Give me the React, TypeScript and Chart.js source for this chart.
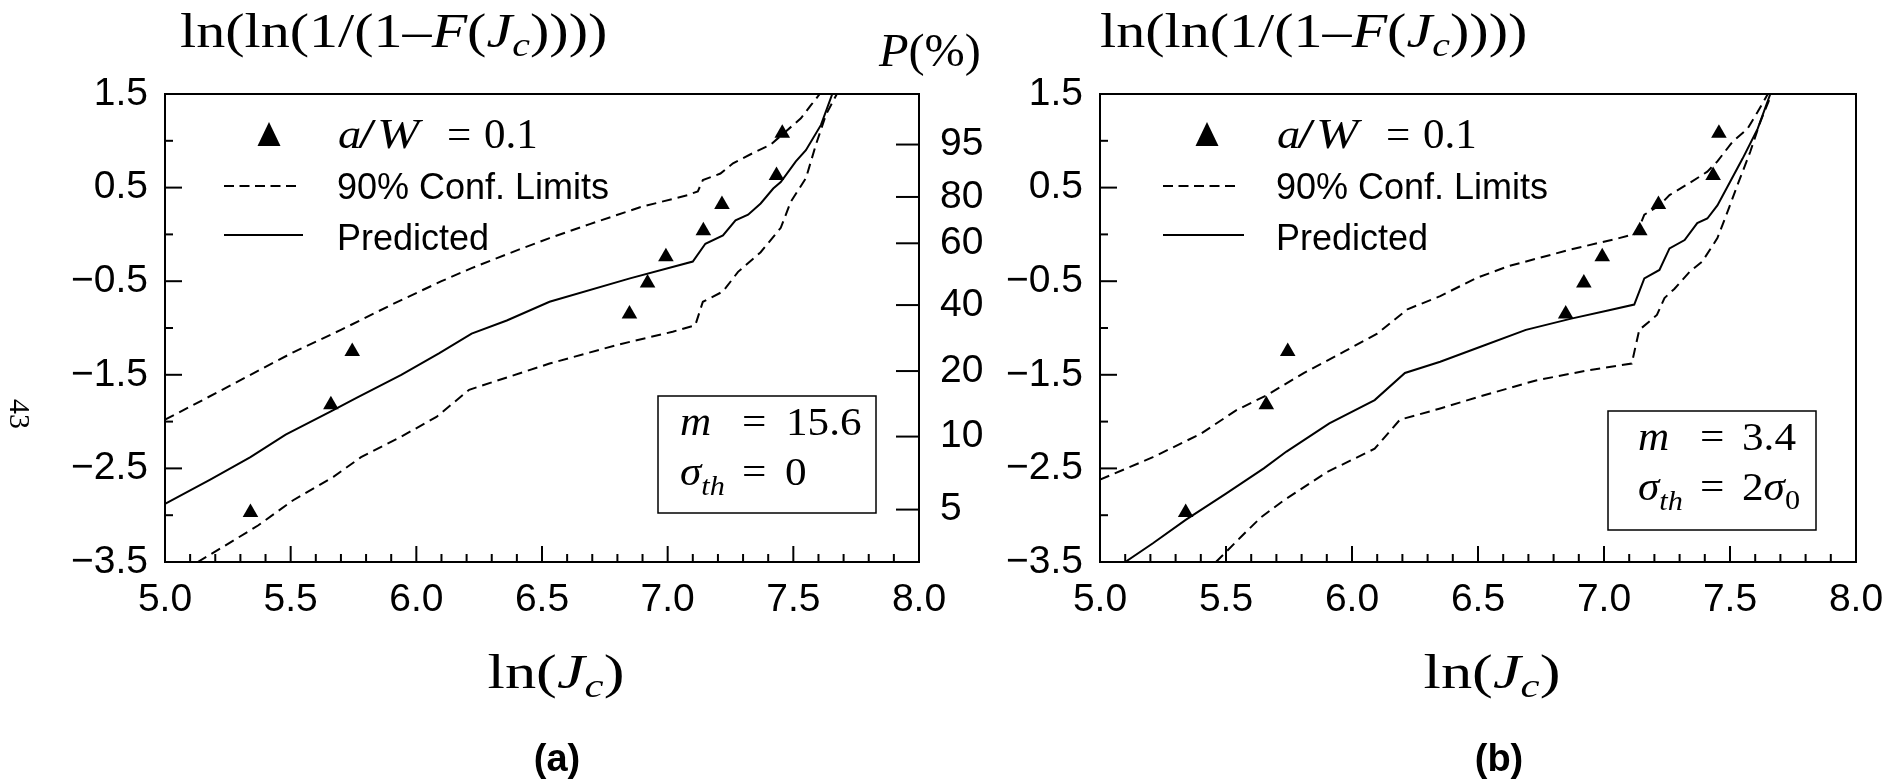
import React, { useEffect, useRef } from "react";
import { Chart, registerables } from "chart.js";

Chart.register(...registerables);

const SANS = '"Liberation Sans", Arial, Helvetica, sans-serif';
const SERIF = '"Liberation Serif", "Times New Roman", serif';

// Specimen failures, a/W = 0.1: ln(Jc) and Weibull ordinate ln(ln(1/(1-F)))
const specimenLnJc = [5.34, 5.66, 5.745, 6.848, 6.92, 6.993, 7.142, 7.216, 7.433, 7.456];
const specimenWeibull = [-2.97, -1.82, -1.25, -0.85, -0.52, -0.24, 0.04, 0.32, 0.63, 1.08];

// Cumulative probability scale on the right of panel (a)
const probLabels = ["95", "80", "60", "40", "20", "10", "5"];
const probPositions = [0.96, 0.4, -0.095, -0.755, -1.46, -2.16, -2.94];

// Panel (a): m = 15.6, sigma_th = 0
const aPredX = [5.0, 5.18, 5.34, 5.48, 5.66, 5.76, 5.94, 6.09, 6.22, 6.36, 6.53, 6.85, 7.1, 7.15, 7.22, 7.27, 7.32, 7.37, 7.42, 7.45, 7.51, 7.55, 7.61, 7.655];
const aPredY = [-2.88, -2.62, -2.38, -2.14, -1.89, -1.75, -1.5, -1.27, -1.06, -0.92, -0.72, -0.47, -0.29, -0.1, -0.01, 0.15, 0.21, 0.33, 0.49, 0.56, 0.78, 0.9, 1.17, 1.5];
const aUpperX = [5.0, 5.15, 5.34, 5.51, 5.7, 5.91, 6.1, 6.22, 6.41, 6.53, 6.69, 6.89, 7.08, 7.12, 7.14, 7.21, 7.26, 7.34, 7.41, 7.47, 7.53, 7.57, 7.605];
const aUpperY = [-1.98, -1.77, -1.5, -1.26, -1.02, -0.74, -0.5, -0.36, -0.16, -0.04, 0.11, 0.29, 0.42, 0.46, 0.58, 0.65, 0.76, 0.87, 0.96, 1.1, 1.24, 1.38, 1.5];
const aLowerX = [5.13, 5.23, 5.37, 5.51, 5.67, 5.78, 5.94, 6.08, 6.21, 6.37, 6.53, 6.8, 7.02, 7.11, 7.14, 7.22, 7.28, 7.37, 7.45, 7.49, 7.55, 7.59, 7.63, 7.673];
const aLowerY = [-3.5, -3.34, -3.11, -2.84, -2.59, -2.38, -2.16, -1.95, -1.66, -1.52, -1.38, -1.18, -1.04, -0.97, -0.72, -0.61, -0.4, -0.19, 0.07, 0.35, 0.6, 0.96, 1.28, 1.5];

// Panel (b): m = 3.4, sigma_th = 2 sigma_0
const bPredX = [5.1, 5.21, 5.34, 5.5, 5.65, 5.74, 5.91, 6.09, 6.21, 6.35, 6.51, 6.69, 6.87, 7.02, 7.12, 7.16, 7.22, 7.26, 7.32, 7.37, 7.41, 7.45, 7.5, 7.55, 7.61, 7.66];
const bPredY = [-3.5, -3.3, -3.05, -2.77, -2.5, -2.32, -2.02, -1.77, -1.48, -1.36, -1.2, -1.02, -0.9, -0.81, -0.75, -0.47, -0.38, -0.15, -0.06, 0.12, 0.17, 0.31, 0.56, 0.81, 1.13, 1.5];
const bUpperX = [5.0, 5.21, 5.4, 5.54, 5.66, 5.81, 5.97, 6.1, 6.22, 6.35, 6.49, 6.62, 6.87, 7.06, 7.13, 7.16, 7.22, 7.26, 7.34, 7.41, 7.45, 7.51, 7.57, 7.61, 7.65];
const bUpperY = [-2.62, -2.38, -2.13, -1.88, -1.72, -1.48, -1.25, -1.06, -0.8, -0.66, -0.47, -0.34, -0.16, -0.04, 0.01, 0.21, 0.31, 0.42, 0.55, 0.67, 0.78, 0.99, 1.13, 1.31, 1.5];
const bLowerX = [5.46, 5.56, 5.64, 5.73, 5.9, 6.09, 6.19, 6.35, 6.51, 6.73, 6.94, 7.11, 7.14, 7.18, 7.21, 7.24, 7.28, 7.34, 7.39, 7.45, 7.49, 7.53, 7.58, 7.62, 7.665];
const bLowerY = [-3.5, -3.23, -3.02, -2.84, -2.54, -2.29, -1.98, -1.86, -1.73, -1.56, -1.45, -1.38, -1.02, -0.93, -0.86, -0.68, -0.58, -0.4, -0.29, -0.04, 0.24, 0.53, 0.88, 1.2, 1.5];

const xTickStep = 0.1;
const yTickStep = 0.5;

type Run = { t: string; f: string; dy?: number };

const rom = (s: number) => `${s}px ${SERIF}`;
const ital = (s: number) => `italic ${s}px ${SERIF}`;

function runsWidth(ctx: CanvasRenderingContext2D, runs: Run[]) {
  let w = 0;
  for (const r of runs) {
    ctx.font = r.f;
    w += ctx.measureText(r.t).width;
  }
  return w;
}

// Draws a sequence of differently styled text pieces on one baseline,
// optionally stretched horizontally by sx.
function drawRuns(
  ctx: CanvasRenderingContext2D,
  runs: Run[],
  x: number,
  y: number,
  align: "left" | "center" = "left",
  sx = 1
) {
  const w = runsWidth(ctx, runs) * sx;
  const start = align === "center" ? x - w / 2 : x;
  ctx.save();
  ctx.translate(start, y);
  ctx.scale(sx, 1);
  ctx.textAlign = "left";
  ctx.textBaseline = "alphabetic";
  ctx.fillStyle = "#000";
  let cx = 0;
  for (const r of runs) {
    ctx.font = r.f;
    ctx.fillText(r.t, cx, r.dy || 0);
    cx += ctx.measureText(r.t).width;
  }
  ctx.restore();
}

const pts = (xs: number[], ys: number[]) => xs.map((x, i) => ({ x, y: ys[i] }));

const isHalf = (v: number) => Math.abs(v * 2 - Math.round(v * 2)) < 1e-6;
const isOddHalf = (v: number) => Math.abs(Math.round(v * 2)) % 2 === 1;
const fmtSigned = (v: number) => (v < 0 ? "\u2212" + Math.abs(v).toFixed(1) : v.toFixed(1));

type Placed = { x: number; runs: Run[] };

type Panel = {
  canvasLeft: number;
  canvasWidth: number;
  plotLeft: number;
  plotRight: number;
  showProb: boolean;
  predX: number[];
  predY: number[];
  upX: number[];
  upY: number[];
  loX: number[];
  loY: number[];
  tag: string;
  tagX: number;
  xTitleX: number;
  legendMarkerX: number;
  legendLineX0: number;
  legendLineX1: number;
  legendTextX: number;
  box: { x0: number; y0: number; x1: number; y1: number; line1: Placed[]; line2: Placed[] };
};

const MATH = 40;

const panels: Panel[] = [
  {
    canvasLeft: 0,
    canvasWidth: 990,
    plotLeft: 165,
    plotRight: 919,
    showProb: true,
    predX: aPredX,
    predY: aPredY,
    upX: aUpperX,
    upY: aUpperY,
    loX: aLowerX,
    loY: aLowerY,
    tag: "(a)",
    tagX: 557,
    xTitleX: 556,
    legendMarkerX: 269,
    legendLineX0: 224,
    legendLineX1: 299,
    legendTextX: 337,
    box: {
      x0: 658,
      y0: 396,
      x1: 876,
      y1: 513,
      line1: [
        { x: 680, runs: [{ t: "m", f: ital(MATH) }] },
        { x: 742, runs: [{ t: "=", f: rom(MATH) }] },
        { x: 786, runs: [{ t: "15.6", f: rom(MATH) }] },
      ],
      line2: [
        { x: 680, runs: [{ t: "\u03c3", f: ital(MATH) }, { t: "th", f: ital(28), dy: 10 }] },
        { x: 742, runs: [{ t: "=", f: rom(MATH) }] },
        { x: 785, runs: [{ t: "0", f: rom(MATH) }] },
      ],
    },
  },
  {
    canvasLeft: 990,
    canvasWidth: 910,
    plotLeft: 1100,
    plotRight: 1856,
    showProb: false,
    predX: bPredX,
    predY: bPredY,
    upX: bUpperX,
    upY: bUpperY,
    loX: bLowerX,
    loY: bLowerY,
    tag: "(b)",
    tagX: 1499,
    xTitleX: 1492,
    legendMarkerX: 1207,
    legendLineX0: 1163,
    legendLineX1: 1240,
    legendTextX: 1276,
    box: {
      x0: 1608,
      y0: 411,
      x1: 1816,
      y1: 530,
      line1: [
        { x: 1638, runs: [{ t: "m", f: ital(MATH) }] },
        { x: 1700, runs: [{ t: "=", f: rom(MATH) }] },
        { x: 1742, runs: [{ t: "3.4", f: rom(MATH) }] },
      ],
      line2: [
        { x: 1638, runs: [{ t: "\u03c3", f: ital(MATH) }, { t: "th", f: ital(28), dy: 10 }] },
        { x: 1700, runs: [{ t: "=", f: rom(MATH) }] },
        {
          x: 1742,
          runs: [
            { t: "2", f: rom(MATH) },
            { t: "\u03c3", f: ital(MATH) },
            { t: "0", f: rom(28), dy: 9 },
          ],
        },
      ],
    },
  },
];

const PLOT_TOP = 94;
const PLOT_BOTTOM = 562;
const PAGE_H = 782;

function decorPlugin(p: Panel) {
  return {
    id: "decor",
    afterDraw(chart: any) {
      const ctx: CanvasRenderingContext2D = chart.ctx;
      const a = chart.chartArea;
      const sx = chart.scales.x;
      const sy = chart.scales.y;
      const ox = p.canvasLeft;
      const line = (x0: number, y0: number, x1: number, y1: number) => {
        ctx.beginPath();
        ctx.moveTo(x0, y0);
        ctx.lineTo(x1, y1);
        ctx.stroke();
      };
      ctx.save();
      ctx.strokeStyle = "#000";
      ctx.fillStyle = "#000";
      ctx.lineWidth = 2;
      ctx.setLineDash([]);

      // frame
      ctx.strokeRect(a.left, a.top, a.right - a.left, a.bottom - a.top);

      // inward tick marks
      for (const t of sx.ticks) {
        const px = sx.getPixelForValue(t.value);
        line(px, a.bottom, px, a.bottom - (isHalf(t.value) ? 16 : 8));
      }
      for (const t of sy.ticks) {
        const py = sy.getPixelForValue(t.value);
        line(a.left, py, a.left + (isOddHalf(t.value) ? 17 : 8), py);
      }
      if (p.showProb && chart.scales.yP) {
        const sp = chart.scales.yP;
        for (const t of sp.ticks) {
          const py = sp.getPixelForValue(t.value);
          line(a.right - 23, py, a.right, py);
        }
      }

      // legend: marker, dashed and solid samples
      const mx = p.legendMarkerX - ox;
      ctx.beginPath();
      ctx.moveTo(mx, 122);
      ctx.lineTo(mx + 11.5, 146);
      ctx.lineTo(mx - 11.5, 146);
      ctx.closePath();
      ctx.fill();
      ctx.setLineDash([10, 5.5]);
      line(p.legendLineX0 - ox, 186, p.legendLineX1 - ox, 186);
      ctx.setLineDash([]);
      line(p.legendLineX0 - ox, 235, p.legendLineX1 - ox + 4, 235);

      const tx = p.legendTextX - ox;
      const LEG = 43;
      drawRuns(ctx, [{ t: "a", f: ital(LEG) }], tx + 1, 148, "left", 1.08);
      drawRuns(ctx, [{ t: "/", f: rom(LEG) }], tx + 21, 148, "left", 1.5);
      drawRuns(ctx, [{ t: "W", f: ital(LEG) }], tx + 40, 148, "left", 1.18);
      drawRuns(ctx, [{ t: "=", f: rom(LEG) }], tx + 110, 148);
      drawRuns(ctx, [{ t: "0.1", f: rom(LEG) }], tx + 147, 148);
      ctx.font = `36px ${SANS}`;
      ctx.textAlign = "left";
      ctx.textBaseline = "alphabetic";
      ctx.fillText("90% Conf. Limits", tx, 199);
      ctx.fillText("Predicted", tx, 250);

      // parameter box
      const b = p.box;
      ctx.lineWidth = 1.5;
      ctx.strokeRect(b.x0 - ox, b.y0, b.x1 - b.x0, b.y1 - b.y0);
      const base1 = b.y0 + 39;
      const base2 = b.y0 + 89;
      for (const piece of b.line1) drawRuns(ctx, piece.runs, piece.x - ox, base1, "left", 1.08);
      for (const piece of b.line2) drawRuns(ctx, piece.runs, piece.x - ox, base2, "left", 1.08);

      // y-axis title above the plot
      drawRuns(
        ctx,
        [
          { t: "ln(ln(1/(1\u2013", f: rom(48) },
          { t: "F", f: ital(48) },
          { t: "(", f: rom(48) },
          { t: "J", f: ital(48) },
          { t: "c", f: ital(33), dy: 9 },
          { t: "))))", f: rom(48) },
        ],
        p.plotLeft - ox + (p.showProb ? 15 : 0),
        47,
        "left",
        1.21
      );

      // probability scale title
      if (p.showProb) {
        drawRuns(
          ctx,
          [
            { t: "P", f: ital(46) },
            { t: "(%)", f: rom(46) },
          ],
          879 - ox,
          66,
          "left",
          1.05
        );
      }

      // x-axis title
      drawRuns(
        ctx,
        [
          { t: "ln(", f: rom(48) },
          { t: "J", f: ital(48) },
          { t: "c", f: ital(33), dy: 9 },
          { t: ")", f: rom(48) },
        ],
        p.xTitleX - ox,
        688,
        "center",
        1.3
      );

      // panel tag
      ctx.font = `bold 38px ${SANS}`;
      ctx.textAlign = "center";
      ctx.fillText(p.tag, p.tagX - ox, 771);

      // page number in the margin
      if (p.showProb) {
        ctx.save();
        ctx.translate(18, 414);
        ctx.rotate(Math.PI / 2);
        ctx.font = `30px ${SERIF}`;
        ctx.textAlign = "center";
        ctx.textBaseline = "middle";
        ctx.fillText("43", 0, 0);
        ctx.restore();
      }
      ctx.restore();
    },
  };
}

function buildConfig(p: Panel): any {
  const tickFont = { family: SANS, size: 39 };
  const scales: any = {
    x: {
      type: "linear",
      min: 5,
      max: 8,
      grid: { display: false, drawTicks: false },
      border: { display: false },
      ticks: {
        stepSize: xTickStep,
        autoSkip: false,
        maxRotation: 0,
        padding: 15,
        color: "#000",
        font: tickFont,
        callback: (v: number) => (isHalf(v) ? v.toFixed(1) : ""),
      },
      afterFit: (s: any) => {
        s.height = PAGE_H - PLOT_BOTTOM;
      },
    },
    y: {
      type: "linear",
      position: "left",
      min: -3.5,
      max: 1.5,
      grid: { display: false, drawTicks: false },
      border: { display: false },
      ticks: {
        stepSize: yTickStep,
        autoSkip: false,
        padding: 17,
        color: "#000",
        font: tickFont,
        callback: (v: number) => (isOddHalf(v) ? fmtSigned(v) : ""),
      },
      afterFit: (s: any) => {
        s.width = p.plotLeft - p.canvasLeft;
      },
    },
  };
  if (p.showProb) {
    scales.yP = {
      type: "linear",
      position: "right",
      min: -3.5,
      max: 1.5,
      grid: { display: false, drawTicks: false },
      border: { display: false },
      afterBuildTicks: (s: any) => {
        s.ticks = probPositions.map((value) => ({ value }));
      },
      ticks: {
        autoSkip: false,
        padding: 21,
        color: "#000",
        font: tickFont,
        callback: (_v: number, i: number) => probLabels[i],
      },
      afterFit: (s: any) => {
        s.width = p.canvasLeft + p.canvasWidth - p.plotRight;
      },
    };
  }
  const lineDs = (xs: number[], ys: number[], dash: number[]) => ({
    data: pts(xs, ys),
    showLine: true,
    borderColor: "#000",
    borderWidth: 2,
    borderDash: dash,
    pointRadius: 0,
    tension: 0,
    fill: false,
  });
  return {
    type: "scatter",
    data: {
      datasets: [
        {
          data: pts(specimenLnJc, specimenWeibull),
          showLine: false,
          pointStyle: "triangle",
          pointRadius: 9,
          backgroundColor: "#000",
          borderColor: "#000",
          borderWidth: 0,
        },
        lineDs(p.predX, p.predY, []),
        lineDs(p.upX, p.upY, [10, 6]),
        lineDs(p.loX, p.loY, [10, 6]),
      ],
    },
    options: {
      animation: false,
      responsive: false,
      events: [],
      layout: {
        padding: {
          top: PLOT_TOP,
          left: 0,
          bottom: 0,
          right: p.showProb ? 0 : p.canvasLeft + p.canvasWidth - p.plotRight,
        },
      },
      plugins: { legend: { display: false }, tooltip: { enabled: false } },
      scales,
    },
    plugins: [decorPlugin(p)],
  };
}

function PanelChart({ p }: { p: Panel }) {
  const ref = useRef<HTMLCanvasElement | null>(null);
  useEffect(() => {
    if (!ref.current) return;
    const chart = new Chart(ref.current, buildConfig(p));
    return () => chart.destroy();
  }, [p]);
  return (
    <canvas
      ref={ref}
      width={p.canvasWidth}
      height={PAGE_H}
      style={{
        position: "absolute",
        left: p.canvasLeft,
        top: 0,
        width: p.canvasWidth,
        height: PAGE_H,
      }}
    />
  );
}

export default function App() {
  return (
    <div
      style={{
        position: "absolute",
        left: 0,
        top: 0,
        width: 1900,
        height: PAGE_H,
        background: "#fff",
        overflow: "hidden",
      }}
    >
      {panels.map((p) => (
        <PanelChart key={p.tag} p={p} />
      ))}
    </div>
  );
}
